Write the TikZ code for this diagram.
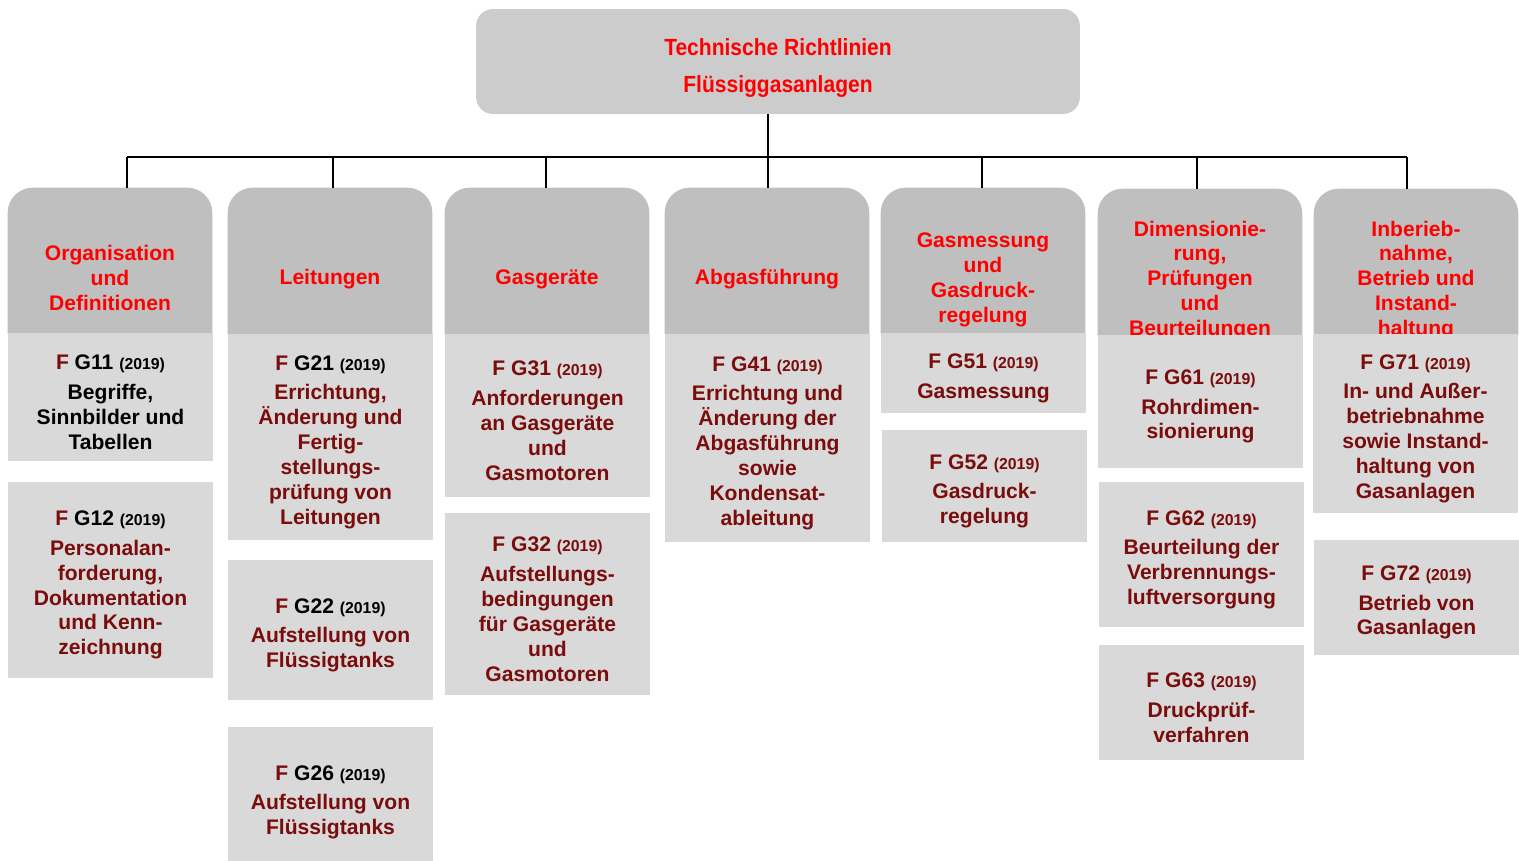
\documentclass[tikz,border=0pt]{standalone}
\usepackage{fontspec}
\setmainfont{Liberation Sans}
\newfontfamily\titlefont[FakeStretch=0.9]{Liberation Sans}
\usepackage{tikz}
\usetikzlibrary{positioning,calc}
\definecolor{rgred}{RGB}{255,0,0}
\definecolor{rgdark}{RGB}{122,12,12}
\definecolor{titlegray}{RGB}{204,204,204}
\definecolor{hdrgray}{RGB}{191,191,191}
\definecolor{subgray}{RGB}{217,217,217}
\newcommand{\regel}[2]{\rule{0pt}{14.3pt}\textcolor{rgdark}{F} \textcolor{#1}{#2 {\fontsize{9}{10}\selectfont(2019)}}\\[2.5pt]}

\begin{document}
\begin{tikzpicture}[
  x=0.02cm, y=-0.02cm,
  font=\fontsize{12}{14.2}\selectfont\bfseries,
  conn/.style={line width=1.1pt, black},
  titlebox/.style={rectangle, rounded corners=0.34cm, fill=titlegray,
                   minimum width=12.08cm, minimum height=2.1cm, text=rgred,
                   align=center, font=\titlefont\fontsize{13.3}{21}\selectfont\bfseries},
  hdr/.style={rectangle, minimum width=4.08cm, minimum height=2.92cm, inner sep=0pt},
  hdrtext/.style={text=rgred, align=center, inner sep=0pt},
  sub/.style={rectangle, fill=subgray, minimum width=4.1cm, text=rgdark,
              align=center, inner sep=0pt}
]
\useasboundingbox (0,0) rectangle (1519,860);

% Title
\node[titlebox] (title) at (778,61.5)
  {\rule{0pt}{17.5pt}Technische Richtlinien\\Flüssiggasanlagen};

% Column heads
\node[hdr] (h1) at (110,261) {};
\node[hdr] (h2) at (330,261) {};
\node[hdr] (h3) at (547,261) {};
\node[hdr] (h4) at (767,261) {};
\node[hdr] (h5) at (983,261) {};
\node[hdr] (h6) at (1200,262) {};
\node[hdr] (h7) at (1416,262) {};
\foreach \h in {h1,h2,h3,h4,h5,h6,h7}
  \fill[hdrgray] (\h.south west) [rounded corners=0.5cm] -- (\h.north west)
    -- (\h.north east) [sharp corners] -- (\h.south east) -- cycle;

\node[hdrtext] (ht1) at ($(h1)+(0,17)$) {Organisation\\und\\Definitionen};
\node[hdrtext] (ht2) at ($(h2)+(0,18)$) {Leitungen};
\node[hdrtext] (ht3) at ($(h3)+(0,18)$) {Gasgeräte};
\node[hdrtext] (ht4) at ($(h4)+(0,18)$) {Abgasführung};
\node[hdrtext] (ht5) at ($(h5)+(0,19)$) {Gasmessung\\und\\Gasdruck-\\regelung};
\node[hdrtext] (ht6) at ($(h6)+(0,18.5)$) {Dimensionie-\\rung,\\Prüfungen\\und\\Beurteilungen};
\node[hdrtext] (ht7) at ($(h7)+(0,18.5)$) {Inberieb-\\nahme,\\Betrieb und\\Instand-\\haltung};

% Organisation
\node[sub, minimum height=2.56cm, text=black] (g11) at (110.5,397)
  {\regel{black}{G11}Begriffe,\\Sinnbilder und\\Tabellen};
\node[sub, minimum height=3.92cm] (g12) at (110.5,580)
  {\regel{black}{G12}Personalan-\\forderung,\\Dokumentation\\und Kenn-\\zeichnung};

% Leitungen
\node[sub, minimum height=4.12cm] (g21) at (330.5,437)
  {\regel{black}{G21}Errichtung,\\Änderung und\\Fertig-\\stellungs-\\prüfung von\\Leitungen};
\node[sub, minimum height=2.8cm] (g22) at (330.5,630)
  {\regel{black}{G22}Aufstellung von\\Flüssigtanks};
\node[sub, minimum height=2.8cm] (g26) at (330.5,797)
  {\regel{black}{G26}Aufstellung von\\Flüssigtanks};

% Gasgeraete
\node[sub, minimum height=3.26cm] (g31) at (547.5,415.5)
  {\regel{rgdark}{G31}Anforderungen\\an Gasgeräte\\und\\Gasmotoren};
\node[sub, minimum height=3.64cm] (g32) at (547.5,604)
  {\regel{rgdark}{G32}Aufstellungs-\\bedingungen\\für Gasgeräte\\und\\Gasmotoren};

% Abgasfuehrung
\node[sub, minimum height=4.16cm] (g41) at (767.5,438)
  {\regel{rgdark}{G41}Errichtung und\\Änderung der\\Abgasführung\\sowie\\Kondensat-\\ableitung};

% Gasmessung
\node[sub, minimum height=1.6cm] (g51) at (983.5,373)
  {\regel{rgdark}{G51}Gasmessung};
\node[sub, minimum height=2.24cm] (g52) at (984.5,486)
  {\regel{rgdark}{G52}Gasdruck-\\regelung};

% Dimensionierung
\node[sub, minimum height=2.66cm] (g61) at (1200.5,401.5)
  {\regel{rgdark}{G61}Rohrdimen-\\sionierung};
\node[sub, minimum height=2.9cm] (g62) at (1201.5,554.5)
  {\regel{rgdark}{G62}Beurteilung der\\Verbrennungs-\\luftversorgung};
\node[sub, minimum height=2.3cm] (g63) at (1201.5,702.5)
  {\regel{rgdark}{G63}Druckprüf-\\verfahren};

% Inbetriebnahme
\node[sub, minimum height=3.58cm] (g71) at (1415.5,423.5)
  {\regel{rgdark}{G71}In- und Außer-\\betriebnahme\\sowie Instand-\\haltung von\\Gasanlagen};
\node[sub, minimum height=2.3cm] (g72) at (1416.5,597.5)
  {\regel{rgdark}{G72}Betrieb von\\Gasanlagen};

% Tree lines
\coordinate (trunk) at (768,157);
\foreach \x [count=\i] in {127,333,546,768,982,1197,1407}
  \coordinate (b\i) at (\x,157);
\draw[conn] (trunk |- title.south) -- (trunk);
\draw[conn] (b1) -- (b7);
\foreach \i in {1,...,7}
  \draw[conn] (b\i) -- (b\i |- h\i.north);

\end{tikzpicture}
\end{document}
